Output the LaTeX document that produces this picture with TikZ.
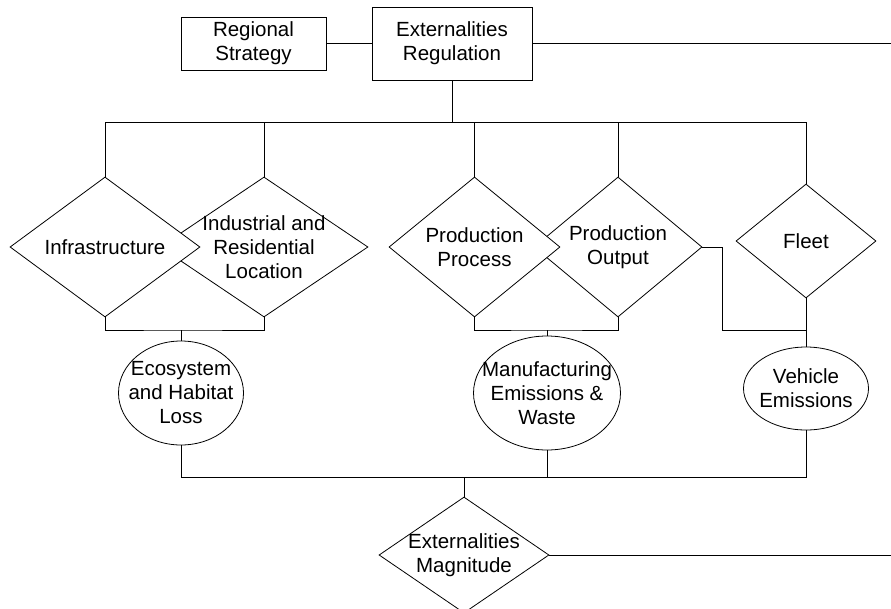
\documentclass[tikz,border=0pt]{standalone}
\usepackage{fontspec}
\setmainfont{Liberation Sans}
\usetikzlibrary{shapes.geometric}
\begin{document}
\begin{tikzpicture}[x=1pt,y=-1pt,
  every node/.style={font=\fontsize{20.5}{24}\selectfont},
  ln/.style={draw=black,line width=0.8pt},
  boxnode/.style={ln,rectangle,fill=white,inner sep=0pt,align=center},
  dia/.style={ln,diamond,fill=white,inner sep=0pt},
  ell/.style={ln,ellipse,fill=white,inner sep=0pt},
  lab/.style={label={[align=center,inner sep=0pt]center:#1}}]
\useasboundingbox (0,0) rectangle (891,608);
% boxes
\node[boxnode,minimum width=145pt,minimum height=53pt] (rs) at (253.5,43.5) {Regional\\Strategy};
\node[boxnode,minimum width=160pt,minimum height=73pt] (er) at (452,43.5) {Externalities\\Regulation};
% diamonds (right ones first so left ones overlap them)
\node[dia,minimum width=208pt,minimum height=140pt,lab={Industrial and\\Residential\\Location}] (ind) at (264,247) {};
\node[dia,minimum width=190pt,minimum height=140pt,lab={Infrastructure}] (inf) at (105,247) {};
\node[dia,minimum width=168pt,minimum height=140pt,lab={Production\\Output}] (po) at (618,247) {};
\node[dia,minimum width=171pt,minimum height=140pt,lab={Production\\Process}] (pp) at (474.5,247) {};
\node[dia,minimum width=140pt,minimum height=114pt,lab={Fleet}] (fl) at (806,241) {};
\node[dia,minimum width=170pt,minimum height=116pt,lab={Externalities\\Magnitude}] (mag) at (464,555) {};
% ellipses
\node[ell,minimum width=125pt,minimum height=104pt,lab={Ecosystem\\and Habitat\\Loss}] (eco) at (181,393) {};
\node[ell,minimum width=147pt,minimum height=114pt,lab={Manufacturing\\Emissions \&\\Waste}] (mfg) at (547,393) {};
\node[ell,minimum width=125pt,minimum height=83pt,lab={Vehicle\\Emissions}] (veh) at (806,388.5) {};
% coordinates
\coordinate (busy) at (0,122);
\coordinate (topend) at (891,43.5);
\coordinate (magend) at (891,555);
\coordinate (j1) at (181,330);
\coordinate (j2) at (547,330);
\coordinate (k) at (722,330);
\coordinate (j3) at (806,330);
\coordinate (b) at (464,477);
% connectors
\draw[ln] (rs.east) -- (er.west);
\draw[ln] (er.east) -- (topend);
\draw[ln] (er.south) -- (er.south |- busy);
\draw[ln] (inf.north) -- (inf.north |- busy) -- (fl.north |- busy) -- (fl.north);
\draw[ln] (ind.north) -- (ind.north |- busy);
\draw[ln] (pp.north) -- (pp.north |- busy);
\draw[ln] (po.north) -- (po.north |- busy);
\draw[ln] (inf.south) |- (j1) -| (ind.south);
\draw[ln] (j1) -- (eco.north);
\draw[ln] (pp.south) |- (j2) -| (po.south);
\draw[ln] (j2) -- (mfg.north);
\draw[ln] (po.east) -| (k) -- (j3);
\draw[ln] (fl.south) -- (veh.north);
\draw[ln] (eco.south) |- (b);
\draw[ln] (veh.south) |- (b);
\draw[ln] (mfg.south) -- (mfg.south |- b);
\draw[ln] (b) -- (mag.north);
\draw[ln] (mag.east) -- (magend);
\end{tikzpicture}
\end{document}
